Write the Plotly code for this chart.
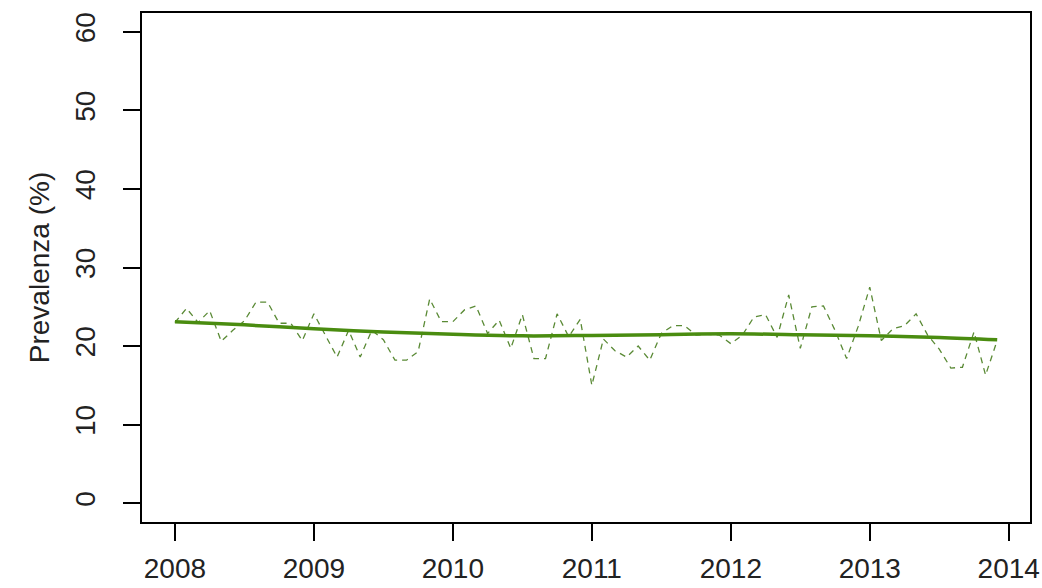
import plotly.graph_objects as go

# Monthly prevalence (%), Jan 2008 - Dec 2013
years = [2008, 2009, 2010, 2011, 2012, 2013]
prev_2008 = [23.0, 24.8, 23.0, 24.5, 20.6, 22.0, 23.2, 25.6, 25.6, 22.9, 22.9, 20.7]
prev_2009 = [24.1, 21.4, 18.6, 22.0, 18.6, 22.0, 20.8, 18.2, 18.2, 19.3, 26.0, 23.1]
prev_2010 = [23.1, 24.6, 25.1, 21.6, 23.3, 19.7, 24.0, 18.4, 18.4, 24.1, 21.2, 23.4]
prev_2011 = [15.0, 20.9, 19.4, 18.6, 20.0, 18.2, 21.6, 22.6, 22.6, 21.4, 21.5, 21.4]
prev_2012 = [20.3, 21.4, 23.7, 24.0, 21.1, 26.5, 19.7, 25.0, 25.1, 22.0, 18.4, 22.5]
prev_2013 = [27.5, 20.7, 22.2, 22.6, 24.1, 21.4, 19.6, 17.2, 17.3, 21.8, 16.3, 20.7]

# smoothed trend read at half-year points
trend_x = [2008.0, 2008.5, 2009.0, 2009.5, 2010.0, 2010.5, 2011.0, 2011.5, 2012.0, 2012.5, 2013.0, 2013.5, 2013.917]
trend_y = [23.1, 22.7, 22.2, 21.8, 21.5, 21.3, 21.35, 21.45, 21.55, 21.45, 21.3, 21.1, 20.8]

x_ticks = [2008, 2009, 2010, 2011, 2012, 2013, 2014]
y_ticks = [0, 10, 20, 30, 40, 50, 60]

series = [prev_2008, prev_2009, prev_2010, prev_2011, prev_2012, prev_2013]
months_x, values = [], []
for yr, vals in zip(years, series):
    for m, v in enumerate(vals):
        months_x.append(yr + m / 12)
        values.append(v)

fig = go.Figure()
fig.add_trace(go.Scatter(x=months_x, y=values, mode="lines",
                         line=dict(color="#5A8A35", width=1.3, dash="6px,5px")))
fig.add_trace(go.Scatter(x=trend_x, y=trend_y, mode="lines",
                         line=dict(color="#4A8C10", width=3.5, shape="spline")))

font = dict(family="Liberation Sans, Arial, sans-serif", size=28, color="#222222")
fig.update_layout(
    width=1042, height=588,
    margin=dict(l=142, r=12, t=13, b=66),
    paper_bgcolor="white", plot_bgcolor="white",
    showlegend=False,
    font=font,
    xaxis=dict(range=[2007.763, 2014.153], tickvals=x_ticks, ticks="outside", ticklen=17,
               tickwidth=2, tickcolor="black", showline=True, linecolor="black", linewidth=2,
               mirror=True, showgrid=False, zeroline=False, ticklabelstandoff=3,
               automargin=False),
    yaxis=dict(range=[-2.4, 62.4], tickvals=y_ticks, ticks="outside", ticklen=17,
               tickwidth=2, tickcolor="black", showline=True, linecolor="black", linewidth=2,
               mirror=True, showgrid=False, zeroline=False, tickangle=-90,
               ticklabelstandoff=17, automargin=False,
               title=dict(text="Prevalenza (%)", font=font, standoff=12)),
)

# remove the default page margin so the figure sits at the window's corner
fig.write_html("out.html", config={"displayModeBar": False},
               post_script="document.body.style.margin='0';")
